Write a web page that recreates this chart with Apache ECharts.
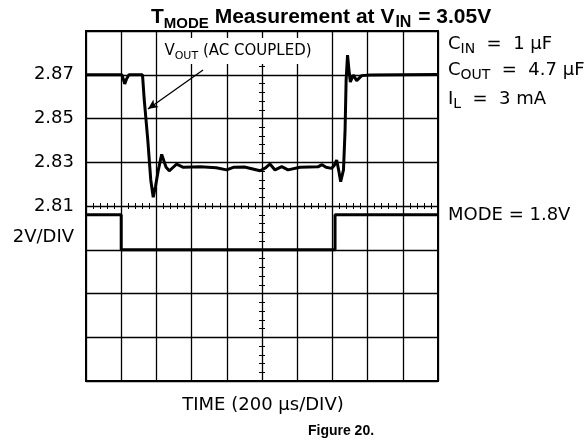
<!DOCTYPE html>
<html><head><meta charset="utf-8">
<script src="https://cdn.jsdelivr.net/npm/echarts@6.0.0/dist/echarts.min.js"></script>
<style>html,body{margin:0;padding:0;background:#fff}#c{width:586px;height:448px}</style>
</head><body><div id="c"></div>
<script>
// time in microseconds (200 us/div), VOUT in volts (AC coupled, 20 mV/div)
const voutTime = [0, 204, 212, 220, 230, 244, 321, 331, 351, 368, 382, 395, 411, 430, 455, 473, 494, 515, 553, 650, 740, 799, 837, 900, 989, 1020, 1045, 1074, 1112, 1148, 1216, 1318, 1341, 1364, 1396, 1410, 1424, 1436, 1447, 1463, 1472, 1478, 1486, 1494, 1502, 1519, 1538, 1566, 1614, 1800, 2000];
const voutVolt = [2.870, 2.870, 2.868, 2.8658, 2.868, 2.870, 2.870, 2.8585, 2.8402, 2.8219, 2.8140, 2.8190, 2.8265, 2.8336, 2.8277, 2.8261, 2.8276, 2.8291, 2.8277, 2.8279, 2.8275, 2.8265, 2.8277, 2.8278, 2.8261, 2.8274, 2.8292, 2.8265, 2.8280, 2.8265, 2.8277, 2.8279, 2.8289, 2.8277, 2.8272, 2.8285, 2.8310, 2.8262, 2.8211, 2.8265, 2.8447, 2.8676, 2.8790, 2.8722, 2.8667, 2.8699, 2.8673, 2.8696, 2.8699, 2.8700, 2.8701];
// MODE pin, 2 V/div
const modeTime = [0, 200, 200, 1415, 1415, 2000];
const modeVolt = [1.6, 1.6, 0, 0, 1.6, 1.6];
// axis label values
const voltTicks = [2.81, 2.83, 2.85, 2.87];
// annotation arrow (data coords)
const arrowFrom = [665, 2.8722];
const arrowTo = [352, 2.8543];

const scopeFont = 'DejaVu Sans';
const chart = echarts.init(document.getElementById('c'), null, {renderer: 'canvas'});

const blk = '#000';
function tickAxisX(inside) {
  return {type: 'value', min: 0, max: 2000, interval: 200, position: 'bottom', offset: -175,
    axisLine: {show: false}, axisLabel: {show: false}, splitLine: {show: false},
    axisTick: {show: true, inside: inside, length: 3, lineStyle: {color: blk, width: 1}},
    minorTick: {show: true, splitNumber: 5, length: 3, lineStyle: {color: blk, width: 1}}};
}
function tickAxisY(inside) {
  return {type: 'value', min: -6, max: 10, interval: 2, position: 'left', offset: -176,
    axisLine: {show: false}, axisLabel: {show: false}, splitLine: {show: false},
    axisTick: {show: true, inside: inside, length: 3, lineStyle: {color: blk, width: 1}},
    minorTick: {show: true, splitNumber: 5, length: 3, lineStyle: {color: blk, width: 1}}};
}
function sub(size, mainSize, lh) {
  return {
    m: {fontFamily: scopeFont, fontSize: mainSize, lineHeight: lh, fill: blk, verticalAlign: 'middle'},
    s: {fontFamily: scopeFont, fontSize: size, lineHeight: 12, fill: blk, verticalAlign: 'bottom'}
  };
}
const titleFont = 'Liberation Sans, Arial';

const option = {
  animation: false,
  backgroundColor: '#fff',
  grid: {left: 86, top: 31, width: 352, height: 350, show: true, borderColor: blk, borderWidth: 2, backgroundColor: 'transparent'},
  xAxis: [
    {type: 'value', min: 0, max: 2000, interval: 200,
      axisLine: {show: false}, axisTick: {show: false}, axisLabel: {show: false},
      splitLine: {show: true, lineStyle: {color: blk, width: 1.3}}},
    tickAxisX(true), tickAxisX(false)
  ],
  yAxis: [
    {type: 'value', min: 2.73, max: 2.89, position: 'left',
      axisLine: {show: false}, axisTick: {show: false}, splitLine: {show: false},
      axisLabel: {show: true, customValues: voltTicks, formatter: v => v.toFixed(2), margin: 12,
        color: blk, fontFamily: scopeFont, fontSize: 18}},
    {type: 'value', min: -6, max: 10, interval: 2, position: 'right',
      axisLine: {show: false}, axisTick: {show: false}, axisLabel: {show: false},
      splitLine: {show: true, lineStyle: {color: blk, width: 1.3}}},
    tickAxisY(true), tickAxisY(false)
  ],
  series: [
    {type: 'line', xAxisIndex: 0, yAxisIndex: 0, showSymbol: false, symbol: 'none',
      data: voutTime.map((t, i) => [t, voutVolt[i]]),
      lineStyle: {color: blk, width: 3}, z: 5,
      markLine: {silent: true, symbol: ['none', 'arrow'], symbolSize: [7, 10], label: {show: false},
        lineStyle: {color: blk, width: 1.3, type: 'solid'},
        data: [[{coord: arrowFrom}, {coord: arrowTo}]]}},
    {type: 'line', xAxisIndex: 0, yAxisIndex: 1, showSymbol: false, symbol: 'none',
      data: modeTime.map((t, i) => [t, modeVolt[i]]),
      lineStyle: {color: blk, width: 3}, z: 5}
  ],
  graphic: [
    {type: 'text', x: 151, y: 3, z: 100, style: {
      text: '{m|T}{s|MODE}{m| Measurement at V}{s2|IN}{m| = 3.05V}',
      verticalAlign: 'top', align: 'left',
      rich: {
        m: {fontFamily: titleFont, fontWeight: 'bold', fontSize: 21, lineHeight: 28, fill: blk, verticalAlign: 'middle'},
        s: {fontFamily: titleFont, fontWeight: 'bold', fontSize: 15, lineHeight: 13, fill: blk, verticalAlign: 'bottom'},
        s2: {fontFamily: titleFont, fontWeight: 'bold', fontSize: 16, lineHeight: 13, fill: blk, verticalAlign: 'bottom', padding: [0, 1, 0, 1]}
      }}},
    {type: 'text', x: 238, y: 51, z: 100, style: {
      text: '{m|V}{s|OUT}{m| (AC COUPLED)}', align: 'center', verticalAlign: 'middle',
      backgroundColor: '#fff', padding: [2, 4, 2, 4],
      rich: sub(11, 15, 22)}},
    {type: 'text', x: 448, y: 44, z: 100, style: {
      text: '{m|C}{s|IN}{m|  =  1 µF}', align: 'left', verticalAlign: 'middle',
      rich: sub(14, 18, 24)}},
    {type: 'text', x: 448, y: 70.5, z: 100, style: {
      text: '{m|C}{s|OUT}{m|  =  4.7 µF}', align: 'left', verticalAlign: 'middle',
      rich: sub(14, 18, 24)}},
    {type: 'text', x: 448, y: 99, z: 100, style: {
      text: '{m|I}{s|L}{m|  =  3 mA}', align: 'left', verticalAlign: 'middle',
      rich: sub(14, 18, 24)}},
    {type: 'text', x: 448, y: 215, z: 100, style: {
      text: 'MODE = 1.8V', align: 'left', verticalAlign: 'middle',
      fontFamily: scopeFont, fontSize: 18, fill: blk}},
    {type: 'text', x: 74, y: 237, z: 100, style: {
      text: '2V/DIV', align: 'right', verticalAlign: 'middle',
      fontFamily: scopeFont, fontSize: 18, fill: blk}},
    {type: 'text', x: 263, y: 405, z: 100, style: {
      text: 'TIME (200 µs/DIV)', align: 'center', verticalAlign: 'middle',
      fontFamily: scopeFont, fontSize: 18, fill: blk}},
    {type: 'text', x: 341, y: 431, z: 100, style: {
      text: 'Figure 20.', align: 'center', verticalAlign: 'middle',
      fontFamily: titleFont, fontWeight: 'bold', fontSize: 14, fill: blk}}
  ]
};
chart.setOption(option);
</script>
</body></html>
